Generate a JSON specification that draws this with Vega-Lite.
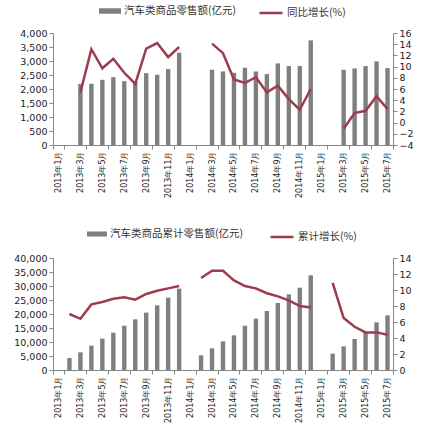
{
  "$schema": "https://vega.github.io/schema/vega-lite/v6.json",
  "description": "Auto retail sales: monthly and cumulative, with growth rates.",
  "padding": {"left": 13, "top": 0, "right": 4, "bottom": 0},
  "spacing": 26,
  "config": {
    "view": {"stroke": null},
    "font": "DejaVu Sans",
    "axis": {
      "grid": false,
      "title": null,
      "domainColor": "#868686",
      "tickColor": "#868686",
      "tickSize": 4,
      "labelColor": "#222222",
      "labelFont": "DejaVu Sans",
      "labelFontSize": 9.5,
      "labelPadding": 2
    },
    "legend": {
      "orient": "none",
      "title": null,
      "labelFont": "Noto Sans CJK SC",
      "labelFontSize": 10.5,
      "labelColor": "#333333",
      "labelOffset": 3,
      "padding": 0
    }
  },
  "datasets": {
    "monthly": [
      {"month": "2013年3月", "year": 2013, "sales": 2185, "growth": 5.4},
      {"month": "2013年4月", "year": 2013, "sales": 2185, "growth": 13.1},
      {"month": "2013年5月", "year": 2013, "sales": 2328, "growth": 9.7},
      {"month": "2013年6月", "year": 2013, "sales": 2424, "growth": 11.4},
      {"month": "2013年7月", "year": 2013, "sales": 2281, "growth": 8.9},
      {"month": "2013年8月", "year": 2013, "sales": 2245, "growth": 6.9},
      {"month": "2013年9月", "year": 2013, "sales": 2567, "growth": 13.2},
      {"month": "2013年10月", "year": 2013, "sales": 2507, "growth": 14.2},
      {"month": "2013年11月", "year": 2013, "sales": 2710, "growth": 11.7},
      {"month": "2013年12月", "year": 2013, "sales": 3296, "growth": 13.5},
      {"month": "2014年3月", "year": 2014, "sales": 2687, "growth": 14.1},
      {"month": "2014年4月", "year": 2014, "sales": 2627, "growth": 12.4},
      {"month": "2014年5月", "year": 2014, "sales": 2579, "growth": 7.7},
      {"month": "2014年6月", "year": 2014, "sales": 2758, "growth": 7.1},
      {"month": "2014年7月", "year": 2014, "sales": 2627, "growth": 8.1},
      {"month": "2014年8月", "year": 2014, "sales": 2531, "growth": 5.4},
      {"month": "2014年9月", "year": 2014, "sales": 2913, "growth": 6.6},
      {"month": "2014年10月", "year": 2014, "sales": 2818, "growth": 4.2},
      {"month": "2014年11月", "year": 2014, "sales": 2818, "growth": 2.3},
      {"month": "2014年12月", "year": 2014, "sales": 3737, "growth": 6.0},
      {"month": "2015年3月", "year": 2015, "sales": 2687, "growth": -1.1},
      {"month": "2015年4月", "year": 2015, "sales": 2734, "growth": 1.7},
      {"month": "2015年5月", "year": 2015, "sales": 2818, "growth": 2.1},
      {"month": "2015年6月", "year": 2015, "sales": 2985, "growth": 4.7},
      {"month": "2015年7月", "year": 2015, "sales": 2746, "growth": 2.4}
    ],
    "cumulative": [
      {"month": "2013年2月", "year": 2013, "sales": 4290, "growth": 7.0},
      {"month": "2013年3月", "year": 2013, "sales": 6310, "growth": 6.4},
      {"month": "2013年4月", "year": 2013, "sales": 8690, "growth": 8.2},
      {"month": "2013年5月", "year": 2013, "sales": 11190, "growth": 8.5},
      {"month": "2013年6月", "year": 2013, "sales": 13330, "growth": 8.9},
      {"month": "2013年7月", "year": 2013, "sales": 15830, "growth": 9.1},
      {"month": "2013年8月", "year": 2013, "sales": 18100, "growth": 8.8},
      {"month": "2013年9月", "year": 2013, "sales": 20480, "growth": 9.5},
      {"month": "2013年10月", "year": 2013, "sales": 23100, "growth": 9.9},
      {"month": "2013年11月", "year": 2013, "sales": 25830, "growth": 10.2},
      {"month": "2013年12月", "year": 2013, "sales": 29050, "growth": 10.5},
      {"month": "2014年2月", "year": 2014, "sales": 5240, "growth": 11.5},
      {"month": "2014年3月", "year": 2014, "sales": 7740, "growth": 12.4},
      {"month": "2014年4月", "year": 2014, "sales": 10240, "growth": 12.4},
      {"month": "2014年5月", "year": 2014, "sales": 12380, "growth": 11.2},
      {"month": "2014年6月", "year": 2014, "sales": 15830, "growth": 10.5},
      {"month": "2014年7月", "year": 2014, "sales": 18330, "growth": 10.2},
      {"month": "2014年8月", "year": 2014, "sales": 21070, "growth": 9.6},
      {"month": "2014年9月", "year": 2014, "sales": 23930, "growth": 9.2},
      {"month": "2014年10月", "year": 2014, "sales": 27020, "growth": 8.7},
      {"month": "2014年11月", "year": 2014, "sales": 29400, "growth": 8.0},
      {"month": "2014年12月", "year": 2014, "sales": 33810, "growth": 7.8},
      {"month": "2015年2月", "year": 2015, "sales": 5830, "growth": 10.9},
      {"month": "2015年3月", "year": 2015, "sales": 8450, "growth": 6.5},
      {"month": "2015年4月", "year": 2015, "sales": 11070, "growth": 5.4},
      {"month": "2015年5月", "year": 2015, "sales": 13570, "growth": 4.7},
      {"month": "2015年6月", "year": 2015, "sales": 17020, "growth": 4.7},
      {"month": "2015年7月", "year": 2015, "sales": 19520, "growth": 4.4}
    ]
  },
  "resolve": {"scale": {"x": "independent", "color": "independent", "stroke": "independent"}, "legend": {"color": "independent", "stroke": "independent"}},
  "vconcat": [
    {
      "width": 340,
      "height": 112,
      "data": {"name": "monthly"},
      "encoding": {
        "x": {
          "field": "month",
          "type": "ordinal",
          "scale": {
            "domain": ["2013年1月", "2013年2月", "2013年3月", "2013年4月", "2013年5月", "2013年6月", "2013年7月", "2013年8月", "2013年9月", "2013年10月", "2013年11月", "2013年12月", "2014年1月", "2014年2月", "2014年3月", "2014年4月", "2014年5月", "2014年6月", "2014年7月", "2014年8月", "2014年9月", "2014年10月", "2014年11月", "2014年12月", "2015年1月", "2015年2月", "2015年3月", "2015年4月", "2015年5月", "2015年6月", "2015年7月"],
            "paddingInner": 0,
            "paddingOuter": 0
          },
          "axis": {
            "values": ["2013年1月", "2013年3月", "2013年5月", "2013年7月", "2013年9月", "2013年11月", "2014年1月", "2014年3月", "2014年5月", "2014年7月", "2014年9月", "2014年11月", "2015年1月", "2015年3月", "2015年5月", "2015年7月"],
            "labelAngle": 270,
            "labelFontSize": 8,
            "tickBand": "extent"
          }
        }
      },
      "layer": [
        {
          "mark": {"type": "bar", "width": {"band": 0.4}, "color": "#7f7f7f"},
          "encoding": {
            "y": {
              "field": "sales",
              "type": "quantitative",
              "scale": {"domain": [0, 4000], "nice": false},
              "axis": {"values": [0, 500, 1000, 1500, 2000, 2500, 3000, 3500, 4000]}
            },
            "color": {
              "datum": "汽车类商品零售额(亿元)",
              "scale": {"range": ["#7f7f7f"]},
              "legend": {"legendX": 46, "legendY": -33, "symbolType": "M-1,-0.25H1V0.25H-1Z", "symbolSize": 484, "symbolStrokeWidth": 0}
            }
          }
        },
        {
          "mark": {"type": "line", "strokeWidth": 2.5, "color": "#9e3b4d"},
          "encoding": {
            "y": {
              "field": "growth",
              "type": "quantitative",
              "scale": {"domain": [-4, 16], "nice": false},
              "axis": {"orient": "right", "values": [-4, -2, 0, 2, 4, 6, 8, 10, 12, 14, 16]}
            },
            "detail": {"field": "year"},
            "stroke": {
              "datum": "同比增长(%)",
              "scale": {"range": ["#9e3b4d"]},
              "legend": {"legendX": 205, "legendY": -33, "symbolType": "stroke", "symbolSize": 529, "symbolStrokeWidth": 2.5}
            }
          }
        }
      ],
      "resolve": {"scale": {"y": "independent"}}
    },
    {
      "width": 340,
      "height": 112,
      "data": {"name": "cumulative"},
      "encoding": {
        "x": {
          "field": "month",
          "type": "ordinal",
          "scale": {
            "domain": ["2013年1月", "2013年2月", "2013年3月", "2013年4月", "2013年5月", "2013年6月", "2013年7月", "2013年8月", "2013年9月", "2013年10月", "2013年11月", "2013年12月", "2014年1月", "2014年2月", "2014年3月", "2014年4月", "2014年5月", "2014年6月", "2014年7月", "2014年8月", "2014年9月", "2014年10月", "2014年11月", "2014年12月", "2015年1月", "2015年2月", "2015年3月", "2015年4月", "2015年5月", "2015年6月", "2015年7月"],
            "paddingInner": 0,
            "paddingOuter": 0
          },
          "axis": {
            "values": ["2013年1月", "2013年3月", "2013年5月", "2013年7月", "2013年9月", "2013年11月", "2014年1月", "2014年3月", "2014年5月", "2014年7月", "2014年9月", "2014年11月", "2015年1月", "2015年3月", "2015年5月", "2015年7月"],
            "labelAngle": 270,
            "labelFontSize": 8,
            "tickBand": "extent"
          }
        }
      },
      "layer": [
        {
          "mark": {"type": "bar", "width": {"band": 0.4}, "color": "#7f7f7f"},
          "encoding": {
            "y": {
              "field": "sales",
              "type": "quantitative",
              "scale": {"domain": [0, 40000], "nice": false},
              "axis": {"values": [0, 5000, 10000, 15000, 20000, 25000, 30000, 35000, 40000]}
            },
            "color": {
              "datum": "汽车类商品累计零售额(亿元)",
              "scale": {"range": ["#7f7f7f"]},
              "legend": {"legendX": 34, "legendY": -34, "symbolType": "M-1,-0.25H1V0.25H-1Z", "symbolSize": 400, "symbolStrokeWidth": 0}
            }
          }
        },
        {
          "mark": {"type": "line", "strokeWidth": 2.5, "color": "#9e3b4d"},
          "encoding": {
            "y": {
              "field": "growth",
              "type": "quantitative",
              "scale": {"domain": [0, 14], "nice": false},
              "axis": {"orient": "right", "values": [0, 2, 4, 6, 8, 10, 12, 14]}
            },
            "detail": {"field": "year"},
            "stroke": {
              "datum": "累计增长(%)",
              "scale": {"range": ["#9e3b4d"]},
              "legend": {"legendX": 216, "legendY": -34, "symbolType": "stroke", "symbolSize": 529, "symbolStrokeWidth": 2.5}
            }
          }
        }
      ],
      "resolve": {"scale": {"y": "independent"}}
    }
  ]
}
